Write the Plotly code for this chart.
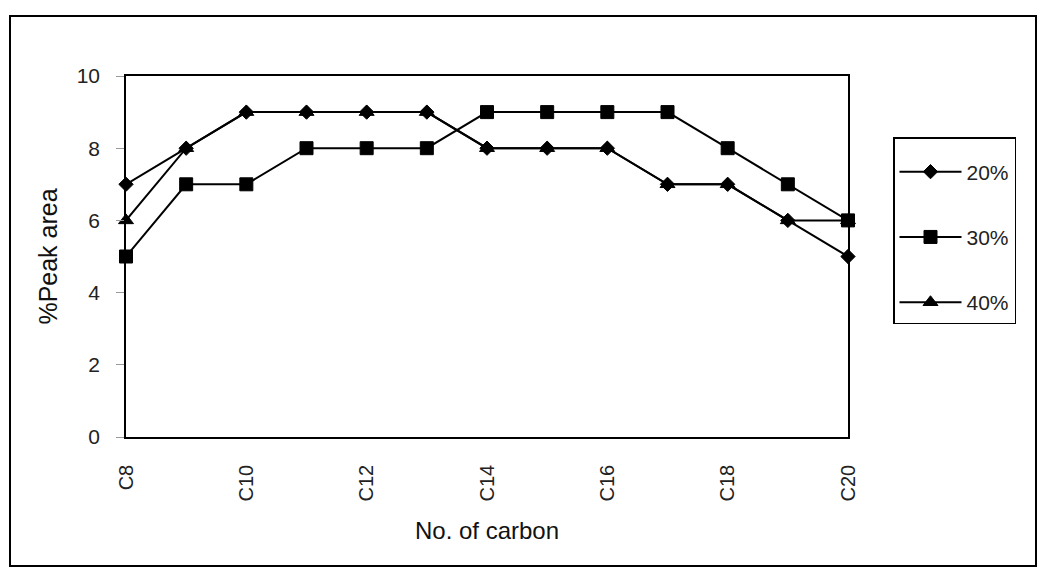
import plotly.graph_objects as go

# Carbon-number distribution of peak areas at three concentrations
carbons = ["C8", "C9", "C10", "C11", "C12", "C13", "C14",
           "C15", "C16", "C17", "C18", "C19", "C20"]
pct_20 = [7, 8, 9, 9, 9, 9, 8, 8, 8, 7, 7, 6, 5]
pct_30 = [5, 7, 7, 8, 8, 8, 9, 9, 9, 9, 8, 7, 6]
pct_40 = [6, 8, 9, 9, 9, 9, 8, 8, 8, 7, 7, 6, 6]

series = [
    ("20%", pct_20, "diamond", 11),
    ("30%", pct_30, "square", 13),
    ("40%", pct_40, "triangle-up", 13),
]
shown_ticks = carbons[::2]
y_ticks = [0, 2, 4, 6, 8, 10]

FONT = "Liberation Sans, Arial, sans-serif"
W, H = 1040, 571
L, R, T, B = 126, 192, 76, 134
pw, ph = W - L - R, H - T - B


def px_x(p):
    return (p - L) / pw


def px_y(p):
    return (H - B - p) / ph


fig = go.Figure()
for name, vals, sym, size in series:
    fig.add_trace(go.Scatter(
        x=carbons, y=vals, name=name, mode="lines+markers",
        legendgroup=name, cliponaxis=False,
        line=dict(color="black", width=2),
        marker=dict(symbol=sym, size=size, color="black",
                    line=dict(color="black", width=1)),
    ))

fig.update_layout(
    width=W, height=H,
    margin=dict(l=L, r=R, t=T, b=B, autoexpand=False),
    paper_bgcolor="white", plot_bgcolor="white",
    font=dict(family=FONT, color="#222", size=20),
    showlegend=True,
    legend=dict(
        x=px_x(893), y=px_y(137), xanchor="left", yanchor="top",
        bordercolor="black", borderwidth=1.5, bgcolor="white",
        tracegroupgap=35, traceorder="grouped",
        font=dict(size=21, family=FONT, color="#222"),
        itemwidth=62,
        title=dict(text=" ", font=dict(size=10)),
    ),
    xaxis=dict(
        range=[0, 12], tickmode="array", tickvals=shown_ticks,
        ticktext=shown_ticks, tickangle=-90, ticks="",
        ticklabelstandoff=18,
        showgrid=False, zeroline=False,
        showline=True, linecolor="black", linewidth=1.5, mirror=True,
        automargin=False,
        title=dict(text="No. of carbon", standoff=22,
                   font=dict(size=24, family=FONT, color="#111")),
    ),
    yaxis=dict(
        range=[0, 10], tickvals=y_ticks, ticks="outside", ticklen=8,
        tickcolor="#999", tickwidth=1, ticklabelstandoff=12,
        tickfont=dict(size=21),
        showgrid=False, zeroline=False,
        showline=True, linecolor="black", linewidth=1.5, mirror=True,
        automargin=False,
        title=dict(text="%Peak area", standoff=12,
                   font=dict(size=25, family=FONT, color="#111")),
    ),
    shapes=[dict(
        type="rect", xref="paper", yref="paper",
        x0=px_x(10), x1=px_x(1036), y0=px_y(566), y1=px_y(16),
        line=dict(color="black", width=2), fillcolor="rgba(0,0,0,0)",
        layer="below",
    )],
)

fig.write_html("out.html")
